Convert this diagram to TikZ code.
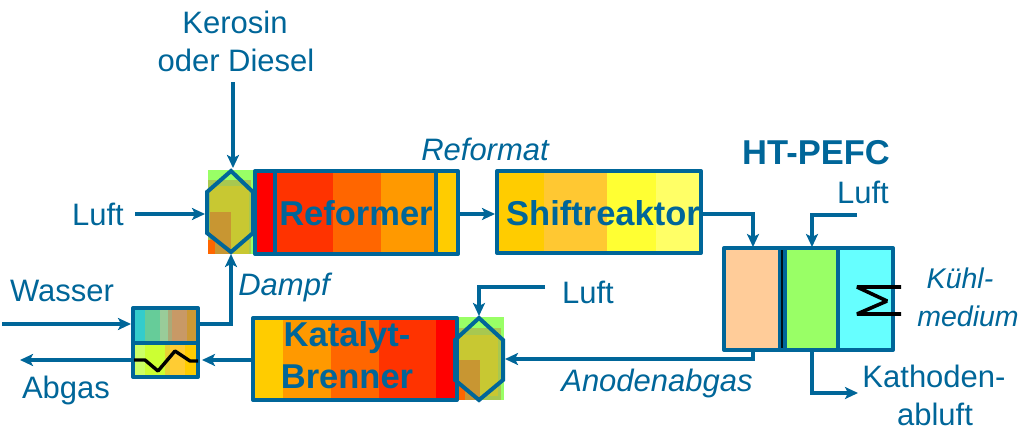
\documentclass[tikz,border=0pt]{standalone}
\usepackage{fontspec}
\setmainfont{Liberation Sans}
\usetikzlibrary{arrows.meta}
\definecolor{lineblue}{HTML}{006699}
\definecolor{txtblue}{HTML}{006699}
\definecolor{hexgreen}{HTML}{99FF66}
\definecolor{hexmid}{HTML}{A8C850}
\definecolor{hexyel}{HTML}{C8C832}
\definecolor{hexora}{HTML}{C89632}
\tikzset{
  x=1pt,y=-1pt,
  box/.style={draw=lineblue,line width=4pt,line join=round,inner sep=0pt,fill=none},
  flow/.style={draw=lineblue,line width=3.6pt,line join=miter,-{Stealth[length=13pt,width=12pt,inset=3pt]}},
  hexline/.style={draw=lineblue,line width=4pt,line join=miter},
  lbl/.style={text=txtblue,font=\fontsize{31}{36}\selectfont,inner sep=0pt,align=center},
  ilbl/.style={text=txtblue,font=\fontsize{31}{36}\selectfont\itshape,inner sep=0pt,align=center},
  ilblsmall/.style={text=txtblue,font=\fontsize{28.5}{33}\selectfont\itshape,inner sep=0pt,align=center},
  blbl/.style={text=txtblue,font=\fontsize{34.5}{40}\selectfont\bfseries,inner sep=0pt,align=center},
  black line/.style={draw=black,line width=3.6pt,line join=bevel},
}
\begin{document}
\begin{tikzpicture}
\useasboundingbox (0,0) rectangle (1020,434);
% --- Reformer bands
\fill[fill=red] (255,170) rectangle (275,254);
\fill[fill={rgb,255:red,255;green,51;blue,0}] (275,170) rectangle (333,254);
\fill[fill={rgb,255:red,255;green,102;blue,0}] (333,170) rectangle (381,254);
\fill[fill={rgb,255:red,255;green,153;blue,0}] (381,170) rectangle (436,254);
\fill[fill={rgb,255:red,255;green,204;blue,0}] (436,170) rectangle (458,254);
% --- Shift bands
\fill[fill={rgb,255:red,255;green,204;blue,0}] (497,170) rectangle (544,254);
\fill[fill={rgb,255:red,255;green,200;blue,50}] (544,170) rectangle (607,254);
\fill[fill={rgb,255:red,255;green,255;blue,51}] (607,170) rectangle (656,254);
\fill[fill={rgb,255:red,255;green,255;blue,102}] (656,170) rectangle (702,254);
% --- Katalyt bands
\fill[fill={rgb,255:red,255;green,204;blue,0}] (254,318) rectangle (283,400);
\fill[fill={rgb,255:red,255;green,153;blue,0}] (283,318) rectangle (331,400);
\fill[fill={rgb,255:red,255;green,102;blue,0}] (331,318) rectangle (379,400);
\fill[fill={rgb,255:red,255;green,51;blue,0}] (379,318) rectangle (436,400);
\fill[fill=red] (436,318) rectangle (456,400);
% --- Heat exchanger bands
\fill[fill={rgb,255:red,51;green,204;blue,204}] (135,310) rectangle (145,343);
\fill[fill={rgb,255:red,102;green,204;blue,153}] (145,310) rectangle (160,343);
\fill[fill={rgb,255:red,153;green,204;blue,153}] (160,310) rectangle (168,343);
\fill[fill={rgb,255:red,170;green,170;blue,120}] (168,310) rectangle (172,343);
\fill[fill={rgb,255:red,200;green,153;blue,102}] (172,310) rectangle (187,343);
\fill[fill={rgb,255:red,204;green,153;blue,51}] (187,310) rectangle (197,343);
\fill[fill={rgb,255:red,204;green,255;blue,102}] (135,343) rectangle (145,376);
\fill[fill={rgb,255:red,204;green,255;blue,51}] (145,343) rectangle (165,376);
\fill[fill={rgb,255:red,230;green,210;blue,51}] (165,343) rectangle (170,376);
\fill[fill={rgb,255:red,255;green,204;blue,51}] (170,343) rectangle (185,376);
\fill[fill={rgb,255:red,255;green,204;blue,0}] (185,343) rectangle (197,376);
% --- Fuel cell fills
\fill[fill={rgb,255:red,255;green,204;blue,153}] (726,250) rectangle (778,348);
\fill[fill=hexgreen] (786,250) rectangle (837,348);
\fill[fill={rgb,255:red,102;green,255;blue,255}] (837,250) rectangle (891,348);
% --- Hexagon 1
\fill[fill=hexgreen] (208,170) rectangle (254,254);
\fill[fill=hexmid] (208,180) rectangle (251,254);
\fill[fill=hexyel] (210,186) rectangle (249,254);
\fill[fill=hexora] (210,212) rectangle (231,254);
\fill[fill={rgb,255:red,255;green,102;blue,0}] (208,240) rectangle (215,254);
% --- Hexagon 2
\fill[fill=hexgreen] (455,317) rectangle (504,400);
\fill[fill=hexmid] (455,328) rectangle (501,400);
\fill[fill=hexyel] (457,335) rectangle (498,396);
\fill[fill=hexora] (457,360) rectangle (480,400);
\fill[fill={rgb,255:red,255;green,102;blue,0}] (455,385) rectangle (465,400);
% --- Named boxes
\node[box,minimum width=203pt,minimum height=83pt] (reformer) at (356.5,212.5) {};
\node[box,minimum width=204pt,minimum height=82pt] (shift) at (599,212) {};
\node[box,minimum width=204pt,minimum height=82pt] (katalyt) at (355,359) {};
\node[box,minimum width=65pt,minimum height=69pt] (hx) at (165.5,342.5) {};
\node[box,minimum width=169pt,minimum height=102pt] (cell) at (808.5,299) {};
\draw[draw=lineblue,line width=3.6pt] (275,171) -- (275,254);
\draw[draw=lineblue,line width=3.6pt] (436,171) -- (436,254);
\draw[draw=lineblue,line width=3.6pt] (133,343) -- (198,343);
\draw[draw=lineblue,line width=9pt] (782,248) -- (782,350);
\draw[draw=black!85!lineblue,line width=2.6pt] (782,250) -- (782,348);
\draw[draw=lineblue,line width=3.6pt] (838,248) -- (838,350);
% --- Hexagon outlines
\draw[hexline] (231,171) -- (253,192) -- (253,233) -- (231,252) -- (207,233) -- (207,192) -- cycle;
\draw[hexline] (479,318) -- (503,340) -- (503,380) -- (479,400) -- (455,380) -- (455,340) -- cycle;
% --- Sigma and zigzag
\draw[black line] (901,287) -- (857,287) -- (887,301) -- (857,314) -- (901,314);
\draw[black line,line width=3.4pt] (134,360) -- (145,360) -- (158,371) -- (175,351) -- (190,361) -- (198,361);
% --- Free ends
\coordinate (kerosinEnd) at (233,82);
\coordinate (hexOneTop) at (233,168);
\coordinate (luftA) at (135,214);
\coordinate (hexOneLeft) at (205,214);
\coordinate (wasserEnd) at (2,324);
\coordinate (hxIn) at (131,324);
\coordinate (hxOut) at (198,324);
\coordinate (hexOneBot) at (231,254);
\coordinate (hxHot) at (202,360);
\coordinate (abgasStart) at (133,360);
\coordinate (abgasEnd) at (20,360);
\coordinate (luftB) at (857,215);
\coordinate (luftC) at (545,287);
\coordinate (hexTwoTop) at (479,316);
\coordinate (hexTwoRight) at (505,359);
\coordinate (kathEnd) at (858,393);
% --- Connectors
\draw[flow] (kerosinEnd) -- (hexOneTop);
\draw[flow] (luftA) -- (hexOneLeft);
\draw[flow] (reformer.east |- 0,214) -- (495,214);
\draw[flow] (shift.east |- 0,214) -- (753,214) -- (753,247);
\draw[flow] (luftB) -- (812,215) -- (812,247);
\draw[flow] (753,350) -- (753,359) -- (hexTwoRight);
\draw[flow] (812,350) -- (812,393) -- (kathEnd);
\draw[flow] (luftC) -- (479,287) -- (hexTwoTop);
\draw[flow] (wasserEnd) -- (hxIn);
\draw[flow] (hxOut) -- (231,324) -- (hexOneBot);
\draw[flow] (katalyt.west |- 0,360) -- (hxHot);
\draw[flow] (abgasStart) -- (abgasEnd);
% --- Labels
\node[lbl] (t1) at (235,22) {Kerosin};
\node[lbl] (t2) at (236,60) {oder Diesel};
\node[ilbl] (t3) at (485,149) {Reformat};
\node[blbl] (t4) at (816,153) {HT-PEFC};
\node[lbl] (t5) at (863,192) {Luft};
\node[lbl] (t6) at (98,214) {Luft};
\node[lbl] (t7) at (62,291) {Wasser};
\node[lbl] (t8) at (66,390) {Abgas};
\node[ilbl] (t9) at (284,287) {Dampf};
\node[lbl] (t10) at (588,292) {Luft};
\node[ilbl] (t11) at (657,383) {Anodenabgas};
\node[ilblsmall] (t12) at (960,278) {Kühl-};
\node[ilblsmall] (t13) at (968,316) {medium};
\node[lbl] (t14) at (934,376) {Kathoden-};
\node[lbl] (t15) at (935,414) {abluft};
\node[blbl] (t16) at (356,213) {Reformer};
\node[blbl] (t17) at (603,213) {Shiftreaktor};
\node[blbl] (t18) at (347,338) {Katalyt-};
\node[blbl] (t19) at (347,377) {Brenner};
\end{tikzpicture}
\end{document}
